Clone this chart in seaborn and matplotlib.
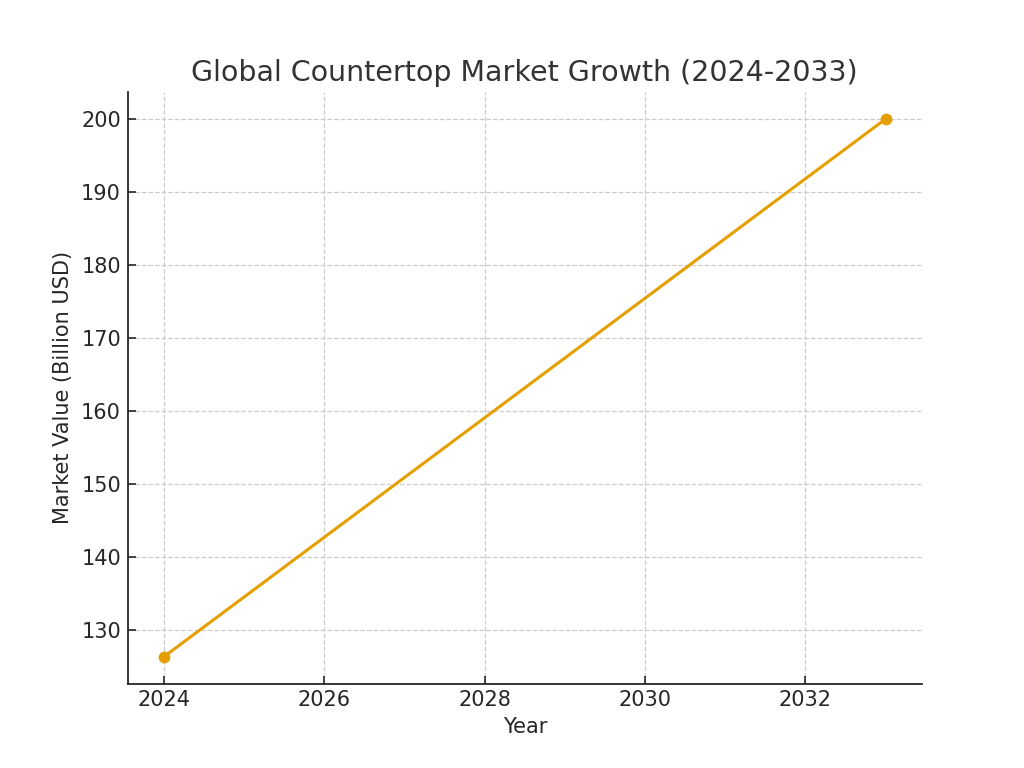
import matplotlib
matplotlib.use("Agg")
import matplotlib.pyplot as plt
import seaborn as sns
import pandas as pd

# 数据：起止两年的市场规模（十亿美元）
years = [2024, 2033]
market_value = [126.3, 200.0]

df = pd.DataFrame({"Year": years, "Market Value": market_value})

sns.set_style("ticks")
plt.rcParams['font.family'] = ['DejaVu Sans']

fig, ax = plt.subplots(figsize=(10.24, 7.68), dpi=100)
sns.lineplot(data=df, x="Year", y="Market Value", ax=ax, color="#E69F00",
             marker="o", markersize=8.5, markeredgewidth=0, linewidth=2.2)

ax.set_title("Global Countertop Market Growth (2024-2033)", fontsize=20.5,
             color="#333333", pad=8)
ax.set_xlabel("Year", fontsize=15, color="#262626", labelpad=5)
ax.set_ylabel("Market Value (Billion USD)", fontsize=15, color="#262626", labelpad=6)
ax.set_xticks([2024, 2026, 2028, 2030, 2032])
ax.set_yticks(range(130, 201, 10))
ax.tick_params(labelsize=15, colors="#262626", length=6, width=1.2,
               direction="in", pad=5)
ax.grid(True, linestyle="--", color="#cccccc", linewidth=0.9)
for side in ["left", "bottom"]:
    ax.spines[side].set_linewidth(1.3)
    ax.spines[side].set_color("#262626")
sns.despine(ax=ax)

fig.subplots_adjust(left=0.125, right=0.9, bottom=0.11, top=0.88)
fig.savefig("out.png", dpi=100)
